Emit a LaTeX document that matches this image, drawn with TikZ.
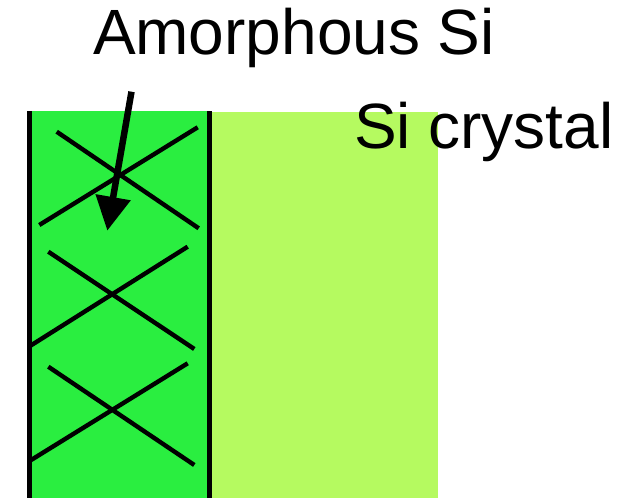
\documentclass[tikz,border=0pt]{standalone}
\usepackage{fontspec}
\setmainfont{Liberation Sans}
\usetikzlibrary{arrows.meta}
\definecolor{amorph}{RGB}{42,238,64}
\definecolor{crystal}{RGB}{181,250,96}
\tikzset{
  bond/.style={line width=4.4pt},
  wall/.style={line width=4.7pt},
  lbl/.style={font=\fontsize{64}{64}\selectfont, inner sep=0pt, anchor=base west},
  pointer/.style={line width=6.5pt, -{Triangle[length=34pt,width=34pt]}}
}
\begin{document}
\begin{tikzpicture}[x=1pt,y=-1pt]
\useasboundingbox (0,0) rectangle (633,498);
\fill[crystal] (209,111.7) rectangle (438,498);
\fill[amorph] (29.8,111) rectangle (209.7,498);
\draw[wall] (29.8,111) -- (29.8,498);
\draw[wall] (209.7,111) -- (209.7,498);
% crosses
\draw[bond] (56.7,131.7) -- (198.7,228.3);
\draw[bond] (39.3,225) -- (197.7,127.3);
\draw[bond] (48.3,251.7) -- (194.3,349);
\draw[bond] (30,346) -- (187.7,246.7);
\draw[bond] (48.3,366.7) -- (194.3,465);
\draw[bond] (30,460.7) -- (187.7,363.3);
\node[lbl] (amorphous) at (92.8,54.4) {Amorphous Si};
\node[lbl] (crystal) at (353.8,148.3) {Si crystal};
\coordinate (arrowstart) at (131.5,91.7);
\coordinate (arrowtip) at (107.3,230.7);
\draw[pointer] (arrowstart) -- (arrowtip);
\end{tikzpicture}
\end{document}
